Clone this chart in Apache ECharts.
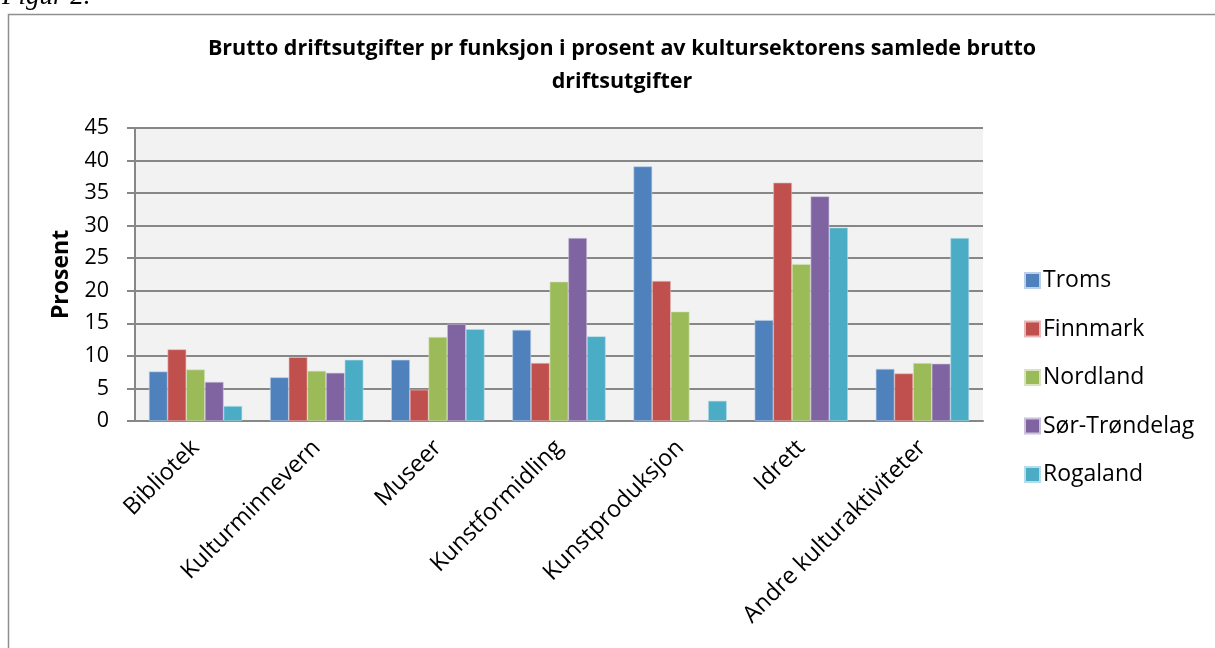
<!DOCTYPE html>
<html>
<head>
<meta charset="utf-8">
<script src="https://cdn.jsdelivr.net/npm/echarts@6/dist/echarts.min.js"></script>
<style>
  html, body { margin: 0; padding: 0; background: #ffffff; }
  #chart { width: 1215px; height: 648px; }
</style>
</head>
<body>
<div id="chart"></div>
<script>
// Functions of the culture sector (x axis)
const categories = ['Bibliotek', 'Kulturminnevern', 'Museer', 'Kunstformidling', 'Kunstproduksjon', 'Idrett', 'Andre kulturaktiviteter'];

// Share of gross operating expenses, percent, per county
const troms        = [7.6, 6.7, 9.4, 14.0, 39.1, 15.5, 8.0];
const finnmark     = [11.0, 9.8, 4.8, 8.9, 21.5, 36.6, 7.3];
const nordland     = [7.9, 7.7, 12.9, 21.4, 16.8, 24.1, 8.9];
const sorTrondelag = [6.0, 7.4, 14.9, 28.1, 0, 34.5, 8.8];
const rogaland     = [2.3, 9.4, 14.1, 13.0, 3.1, 29.7, 28.1];

const seriesNames = ['Troms', 'Finnmark', 'Nordland', 'Sør-Trøndelag', 'Rogaland'];
const seriesData = [troms, finnmark, nordland, sorTrondelag, rogaland];
const colors = ['#4f81bd', '#c0504d', '#9bbb59', '#8064a2', '#4bacc6'];
const edgeColors = ['#bcd0ea', '#e6b9b8', '#d7e4bd', '#ccc1da', '#b7dee8'];

const font = '"Open Sans", "Noto Sans", sans-serif';
const gridColor = '#878787';

const chart = echarts.init(document.getElementById('chart'), null, { renderer: 'canvas' });

chart.setOption({
  animation: false,
  backgroundColor: '#ffffff',
  color: colors,
  title: {
    text: 'Brutto driftsutgifter pr funksjon i prosent av kultursektorens samlede brutto\ndriftsutgifter',
    left: 617,
    top: 27,
    textAlign: 'center',
    textStyle: { fontFamily: font, fontSize: 21.5, fontWeight: 'bold', color: '#000', lineHeight: 33 }
  },
  graphic: [
    {
      type: 'rect',
      shape: { x: 8.5, y: 14.5, width: 1230, height: 660 },
      style: { fill: 'none', stroke: '#8f8f8f', lineWidth: 1.5 },
      z: -1
    },
    {
      type: 'text',
      left: 2,
      top: -17,
      style: { text: 'Figur 2.', font: 'italic 27px "Liberation Serif", serif', fill: '#000' }
    }
  ],
  legend: {
    orient: 'vertical',
    left: 1019,
    top: 264,
    itemWidth: 15,
    itemHeight: 15,
    itemGap: 25.5,
    icon: 'rect',
    textStyle: { fontFamily: font, fontSize: 23, lineHeight: 23, color: '#000', padding: [0, 0, 0, -2] },
    data: seriesNames
  },
  grid: { left: 135, right: 232, top: 128, bottom: 227, containLabel: false },
  xAxis: {
    type: 'category',
    data: categories,
    axisLine: { lineStyle: { color: gridColor, width: 2 } },
    axisTick: { show: false },
    axisLabel: { rotate: 45, fontFamily: font, fontSize: 23.5, color: '#000', margin: 23, interval: 0 }
  },
  yAxis: {
    type: 'value',
    min: 0,
    max: 45,
    interval: 5,
    name: 'Prosent',
    nameLocation: 'middle',
    nameGap: 62,
    nameTextStyle: { fontFamily: font, fontSize: 23, fontWeight: 'bold', color: '#000' },
    axisLine: { show: true, lineStyle: { color: gridColor, width: 2 } },
    axisTick: { show: true, inside: false, length: 8, lineStyle: { color: gridColor, width: 2 } },
    axisLabel: { fontFamily: font, fontSize: 21.5, color: '#000', margin: 26 },
    splitLine: { lineStyle: { color: gridColor, width: 2 } },
    splitArea: { show: true, areaStyle: { color: ['#f2f2f2', '#f2f2f2'] } }
  },
  series: seriesNames.map((name, i) => ({
    name: name,
    type: 'bar',
    data: seriesData[i],
    barGap: '0%',
    barCategoryGap: '23%',
    itemStyle: { color: colors[i], borderColor: edgeColors[i], borderWidth: 0.6 }
  }))
});
</script>
</body>
</html>
